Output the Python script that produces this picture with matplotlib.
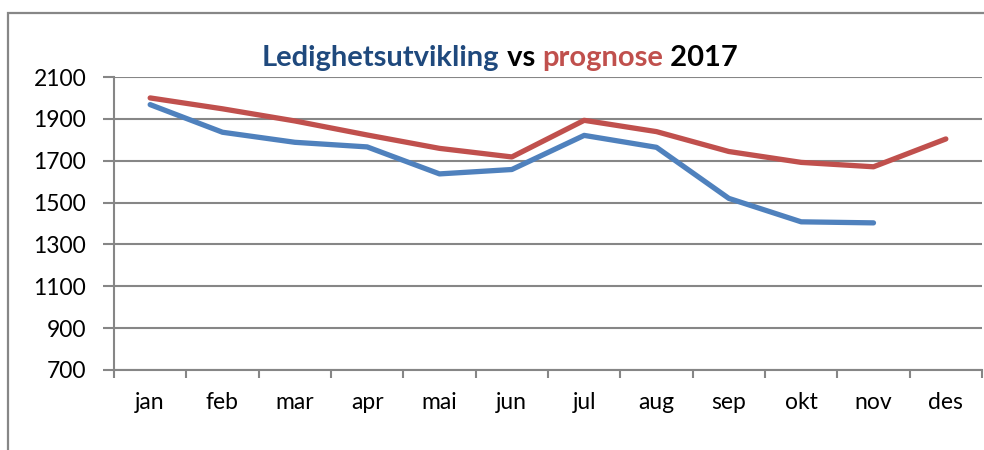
import matplotlib
matplotlib.use("Agg")
import matplotlib.pyplot as plt
from matplotlib.patches import Rectangle

# month labels and series
months = ["jan", "feb", "mar", "apr", "mai", "jun",
          "jul", "aug", "sep", "okt", "nov", "des"]
ledighet = [1968, 1836, 1788, 1766, 1637, 1658,
            1821, 1764, 1520, 1408, 1403]
prognose = [2000, 1948, 1890, 1823, 1759, 1718,
            1893, 1839, 1744, 1692, 1671, 1804]
y_ticks = [700, 900, 1100, 1300, 1500, 1700, 1900, 2100]

BLUE = "#4F81BD"
RED = "#C0504D"
GRID = "#868686"

plt.rcParams["font.family"] = ["Lato", "DejaVu Sans"]

fig = plt.figure(figsize=(9.84, 4.5), dpi=100)
ax = fig.add_axes([114 / 984, 1 - 370 / 450, (982 - 114) / 984, (370 - 77) / 450])

# outer chart border (only top and left are visible in the crop)
fig.patches.append(Rectangle((8 / 984, -0.1), 1.2, 1 - 13 / 450 + 0.1,
                             transform=fig.transFigure, fill=False,
                             edgecolor="#878787", lw=1.6))

x = list(range(len(months)))
ax.plot(x[:len(ledighet)], ledighet, color=BLUE, lw=3.8,
        solid_capstyle="round", solid_joinstyle="round", zorder=3)
ax.plot(x, prognose, color=RED, lw=3.8,
        solid_capstyle="round", solid_joinstyle="round", zorder=3)

ax.set_ylim(700, 2100)
ax.set_xlim(-0.5, len(months) - 0.5)
ax.set_yticks(y_ticks)
ax.yaxis.grid(True, color=GRID, lw=1.5)
ax.set_axisbelow(True)

# ticks between categories, labels in the middle
ax.set_xticks([i - 0.5 for i in range(len(months) + 1)])
ax.set_xticklabels([])
ax.set_xticks(x, minor=True)
ax.set_xticklabels(months, minor=True)
ax.tick_params(axis="x", which="major", length=6, width=1.5, color=GRID,
               direction="out")
ax.tick_params(axis="x", which="minor", length=0, pad=16, labelsize=16.5)
ax.tick_params(axis="y", length=8, width=1.5, color=GRID, pad=12,
               labelsize=16.5)

for side in ["top", "right"]:
    ax.spines[side].set_visible(False)
for side in ["left", "bottom"]:
    ax.spines[side].set_color(GRID)
    ax.spines[side].set_linewidth(1.5)

# multi-colour title, pieces chained one after another
t1 = fig.text(262 / 984, 1 - 66 / 450, "Ledighetsutvikling", color="#1F497D",
              fontsize=21, fontweight="bold", va="baseline", ha="left")
t2 = ax.annotate(" vs ", xy=(1, 0), xycoords=t1, va="bottom", ha="left",
                 fontsize=21, fontweight="bold", color="black")
t3 = ax.annotate("prognose", xy=(1, 0), xycoords=t2, va="bottom", ha="left",
                 fontsize=21, fontweight="bold", color=RED)
ax.annotate(" 2017", xy=(1, 0), xycoords=t3, va="bottom", ha="left",
            fontsize=21, fontweight="bold", color="black")

fig.savefig("out.png", dpi=100)
